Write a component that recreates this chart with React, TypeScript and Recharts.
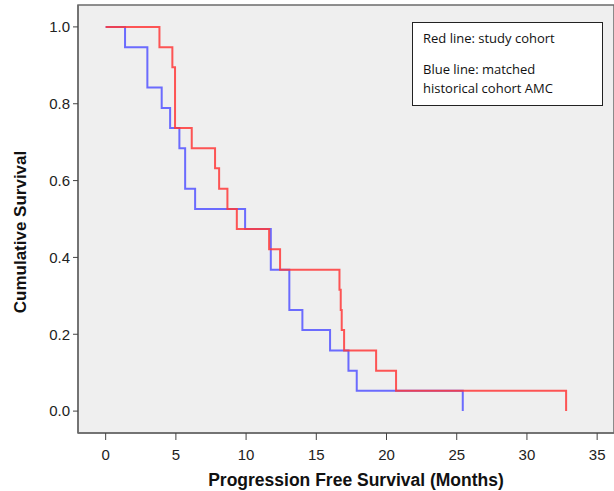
import { LineChart, Line, XAxis, YAxis, ReferenceArea, Label } from "recharts";

// Kaplan-Meier step points: [months, survival]
const studyTimes = [0, 3.83, 4.75, 4.94, 6.13, 7.79, 8.08, 8.67, 9.34, 11.64, 12.42, 16.65, 16.74, 16.81, 16.98, 19.26, 20.68, 32.79];
const studySurv = [1.0, 0.947, 0.895, 0.737, 0.684, 0.632, 0.579, 0.526, 0.474, 0.421, 0.368, 0.316, 0.263, 0.211, 0.158, 0.105, 0.053, 0.0];

const amcTimes = [0, 1.38, 2.97, 3.99, 4.59, 5.25, 5.66, 6.37, 9.93, 11.76, 13.08, 14.01, 15.98, 17.29, 17.88, 25.43];
const amcSurv = [1.0, 0.947, 0.842, 0.789, 0.737, 0.684, 0.579, 0.526, 0.474, 0.368, 0.263, 0.211, 0.158, 0.105, 0.053, 0.0];

const xTicks = [0, 5, 10, 15, 20, 25, 30, 35];
const yTicks = [0, 0.2, 0.4, 0.6, 0.8, 1.0];

const legendLines = ["Red line: study cohort", "Blue line: matched", "historical cohort AMC"];

const X_DOMAIN: [number, number] = [-1.97, 36.2];
const Y_DOMAIN: [number, number] = [-0.057, 1.057];

const studyData = studyTimes.map((t, i) => ({ t, s: studySurv[i] }));
const amcData = amcTimes.map((t, i) => ({ t, s: amcSurv[i] }));

const FONT = "Liberation Sans, Arial, sans-serif";
const tickStyle = { fontSize: 15, fill: "#222", fontFamily: FONT };

export default function App() {
  return (
    <div style={{ position: "absolute", left: 0, top: 0, width: 614, height: 491, background: "#fff" }}>
      <LineChart width={614} height={491} margin={{ top: 5, right: 0, left: 0, bottom: 0 }}>
        <ReferenceArea
          x1={X_DOMAIN[0]}
          x2={X_DOMAIN[1]}
          y1={Y_DOMAIN[0]}
          y2={Y_DOMAIN[1]}
          fill="#efefef"
          fillOpacity={1}
          stroke="#6b6b6b"
          strokeWidth={1.5}
        />
        <XAxis
          type="number"
          dataKey="t"
          domain={X_DOMAIN}
          ticks={xTicks}
          allowDataOverflow
          height={58}
          tick={tickStyle}
          tickSize={7}
          tickMargin={9}
          axisLine={{ stroke: "#6b6b6b", strokeWidth: 1.5 }}
          tickLine={{ stroke: "#444" }}
        >
          <Label
            value="Progression Free Survival (Months)"
            position="insideBottom"
            dx={10}
            offset={5}
            style={{ fontSize: 17.5, fontWeight: "bold", fill: "#111", fontFamily: FONT }}
          />
        </XAxis>
        <YAxis
          type="number"
          dataKey="s"
          domain={Y_DOMAIN}
          ticks={yTicks}
          allowDataOverflow
          width={78}
          tick={tickStyle}
          tickSize={5}
          tickMargin={3}
          tickFormatter={(v: number) => v.toFixed(1)}
          axisLine={{ stroke: "#6b6b6b", strokeWidth: 1.5 }}
          tickLine={{ stroke: "#444" }}
        >
          <Label
            value="Cumulative Survival"
            angle={-90}
            position="insideLeft"
            offset={20}
            dy={13}
            style={{ textAnchor: "middle", fontSize: 17, fontWeight: "bold", fill: "#111", fontFamily: FONT }}
          />
        </YAxis>
        <Line
          data={amcData}
          dataKey="s"
          type="stepAfter"
          stroke="#5c5cff"
          strokeOpacity={0.9}
          strokeWidth={2}
          dot={false}
          isAnimationActive={false}
        />
        <Line
          data={studyData}
          dataKey="s"
          type="stepAfter"
          stroke="#ff3838"
          strokeOpacity={0.85}
          strokeWidth={2}
          dot={false}
          isAnimationActive={false}
        />
      </LineChart>
      <div
        style={{
          position: "absolute",
          left: 412,
          top: 22,
          width: 191,
          height: 84,
          boxSizing: "border-box",
          background: "#fff",
          border: "1px solid #222",
          padding: "6px 0 0 10px",
          fontFamily: "Open Sans, Liberation Sans, sans-serif",
          fontSize: 13,
          color: "#111",
          lineHeight: "19px",
        }}
      >
        <div style={{ marginBottom: 12 }}>{legendLines[0]}</div>
        <div>{legendLines[1]}</div>
        <div>{legendLines[2]}</div>
      </div>
    </div>
  );
}
